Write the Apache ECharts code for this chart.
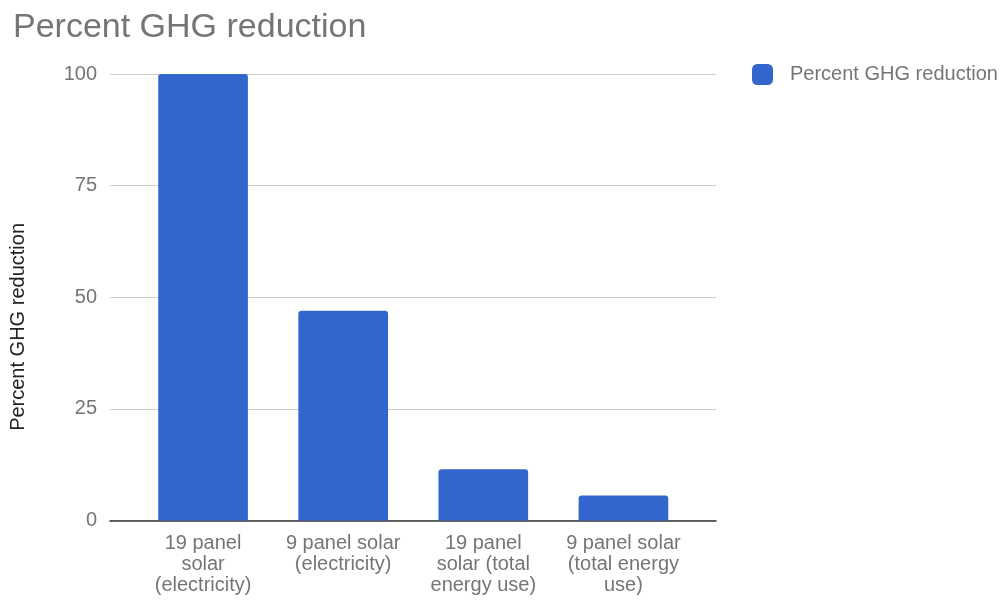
<!DOCTYPE html>
<html>
<head>
<meta charset="utf-8">
<script src="https://cdn.jsdelivr.net/npm/echarts@6/dist/echarts.min.js"></script>
<style>
html,body{margin:0;padding:0;background:#fff;}
#chart{width:1006px;height:601px;}
</style>
</head>
<body>
<div id="chart"></div>
<script>
const categories = [
  "19 panel\nsolar\n(electricity)",
  "9 panel solar\n(electricity)",
  "19 panel\nsolar (total\nenergy use)",
  "9 panel solar\n(total energy\nuse)"
];
const seriesName = "Percent GHG reduction";
const yAxisTitle = "Percent GHG reduction";
const chartTitle = "Percent GHG reduction";
const values = [100, 47, 11.5, 5.6];
const yTicks = [0, 25, 50, 75, 100];

const FONT = '"Liberation Sans", Arial, Helvetica, sans-serif';
const chart = echarts.init(document.getElementById('chart'));
chart.setOption({
  animation: false,
  textStyle: { fontFamily: FONT },
  title: {
    text: chartTitle,
    left: 8, top: 6,
    textStyle: { fontSize: 34, fontWeight: 'normal', color: '#757575', fontFamily: FONT }
  },
  legend: {
    data: [seriesName],
    left: 752, top: 64, padding: 0,
    itemWidth: 21, itemHeight: 21, itemGap: 10,
    icon: 'roundRect',
    textStyle: { fontSize: 20, color: '#757575', padding: [0, 0, 0, 12], fontFamily: FONT }
  },
  graphic: [{
    type: 'text',
    left: 8,
    top: 223,
    rotation: Math.PI / 2,
    style: { text: yAxisTitle, fontSize: 20, fill: '#222', font: '20px ' + FONT }
  }],
  grid: [
    { left: 133, right: 312.5, top: 74, bottom: 80.5, containLabel: false },
    { left: 110, right: 290, top: 74, bottom: 80.5, containLabel: false }
  ],
  xAxis: [
    {
      type: 'category',
      gridIndex: 0,
      data: categories,
      axisLine: { show: false },
      axisTick: { show: false },
      axisLabel: {
        fontSize: 20, color: '#757575', lineHeight: 21, margin: 12,
        interval: 0, align: 'center', fontFamily: FONT
      }
    },
    {
      type: 'category',
      gridIndex: 1,
      data: [''],
      axisLine: { show: true, lineStyle: { color: '#333', width: 1.5 } },
      axisTick: { show: false },
      axisLabel: { show: false }
    }
  ],
  yAxis: [
    {
      type: 'value',
      gridIndex: 0,
      min: yTicks[0], max: yTicks[yTicks.length - 1], interval: 25,
      axisLine: { show: false }, axisTick: { show: false },
      axisLabel: { show: false }, splitLine: { show: false }
    },
    {
      type: 'value',
      gridIndex: 1,
      min: yTicks[0], max: yTicks[yTicks.length - 1], interval: 25,
      axisLine: { show: false },
      axisTick: { show: false },
      axisLabel: { fontSize: 20, color: '#757575', margin: 13, fontFamily: FONT },
      splitLine: { lineStyle: { color: '#cccccc', width: 1 } }
    }
  ],
  series: [{
    name: seriesName,
    type: 'bar',
    xAxisIndex: 0, yAxisIndex: 0,
    data: values,
    barWidth: '64%',
    z: 5,
    itemStyle: { color: '#3366cc', borderRadius: [3, 3, 0, 0] }
  }]
});
</script>
</body>
</html>
